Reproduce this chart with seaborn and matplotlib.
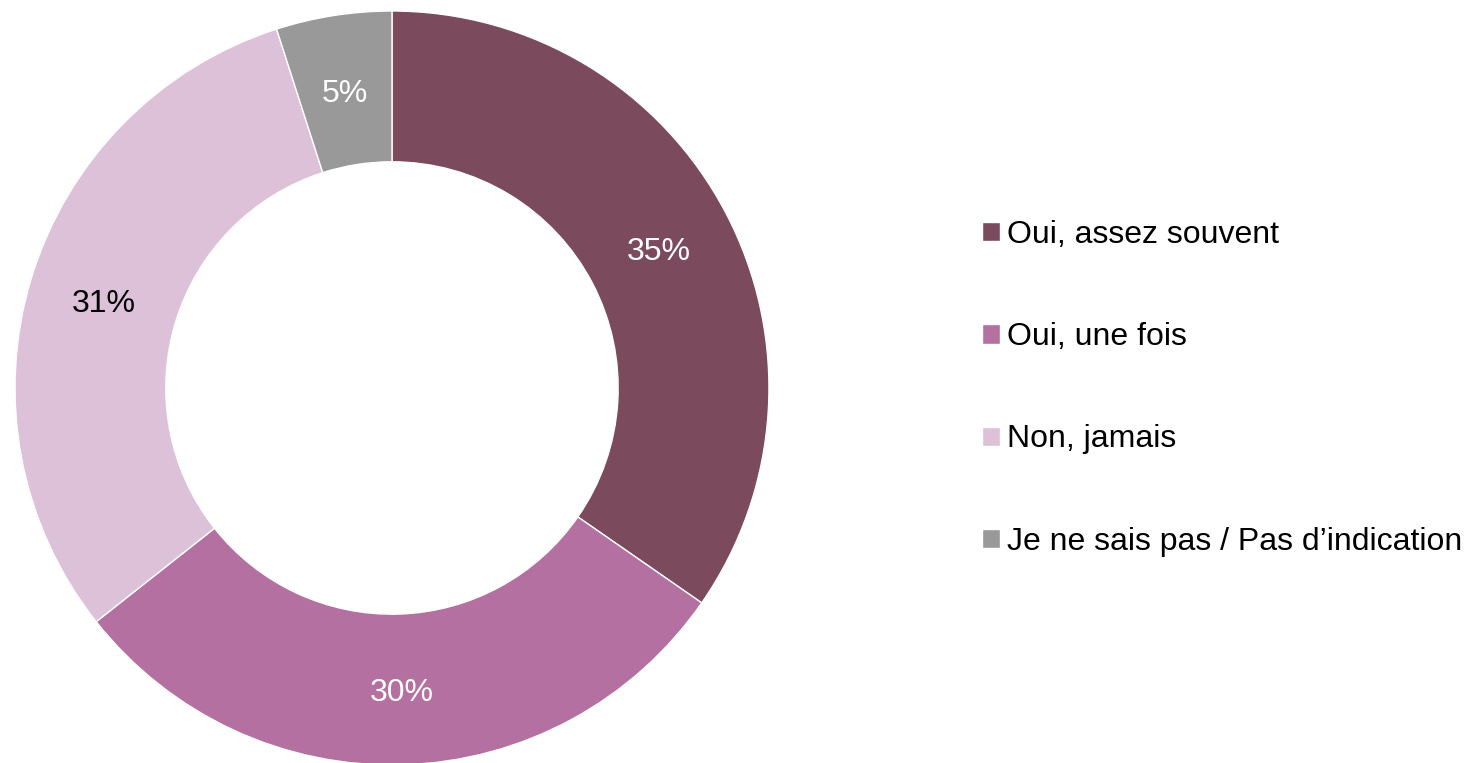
import matplotlib
matplotlib.use('Agg')
import matplotlib.pyplot as plt
import seaborn as sns

# Données du graphique
categories = ['Oui, assez souvent', 'Oui, une fois', 'Non, jamais', 'Je ne sais pas / Pas d’indication']
valeurs = [35, 30, 31, 5]
couleurs = ['#7B4A5C', '#B370A0', '#DCC1D9', '#999999']
couleurs_texte = ['white', 'white', 'black', 'white']

sns.set_theme(style='white')
plt.rcParams['font.family'] = ['Liberation Sans', 'DejaVu Sans']
plt.rcParams['text.color'] = 'black'

fig = plt.figure(figsize=(14.7, 7.63), dpi=100)
ax = fig.add_axes([0.0102, -0.0026, 0.5129, 0.9882])

total = sum(valeurs)
wedges, textes, pcts = ax.pie(
    valeurs,
    colors=couleurs,
    startangle=90,
    counterclock=False,
    radius=1,
    wedgeprops=dict(width=0.4, edgecolor='white', linewidth=1),
    autopct=lambda p: f'{round(p * total / 100):.0f}%',
    pctdistance=0.8,
    textprops=dict(fontsize=23),
)
for t, c in zip(pcts, couleurs_texte):
    t.set_color(c)
    t.set_verticalalignment('center_baseline')

ax.set_xlim(-1, 1)
ax.set_ylim(-1, 1)
ax.set_aspect('equal')
ax.axis('off')

fig.legend(
    wedges, categories,
    loc='center left', bbox_to_anchor=(0.668, 0.491),
    frameon=False, fontsize=23, labelcolor='black',
    handlelength=0.55, handleheight=0.55, handletextpad=0.22,
    labelspacing=2.26, borderpad=0, borderaxespad=0,
)

fig.savefig('out.png', dpi=100)
